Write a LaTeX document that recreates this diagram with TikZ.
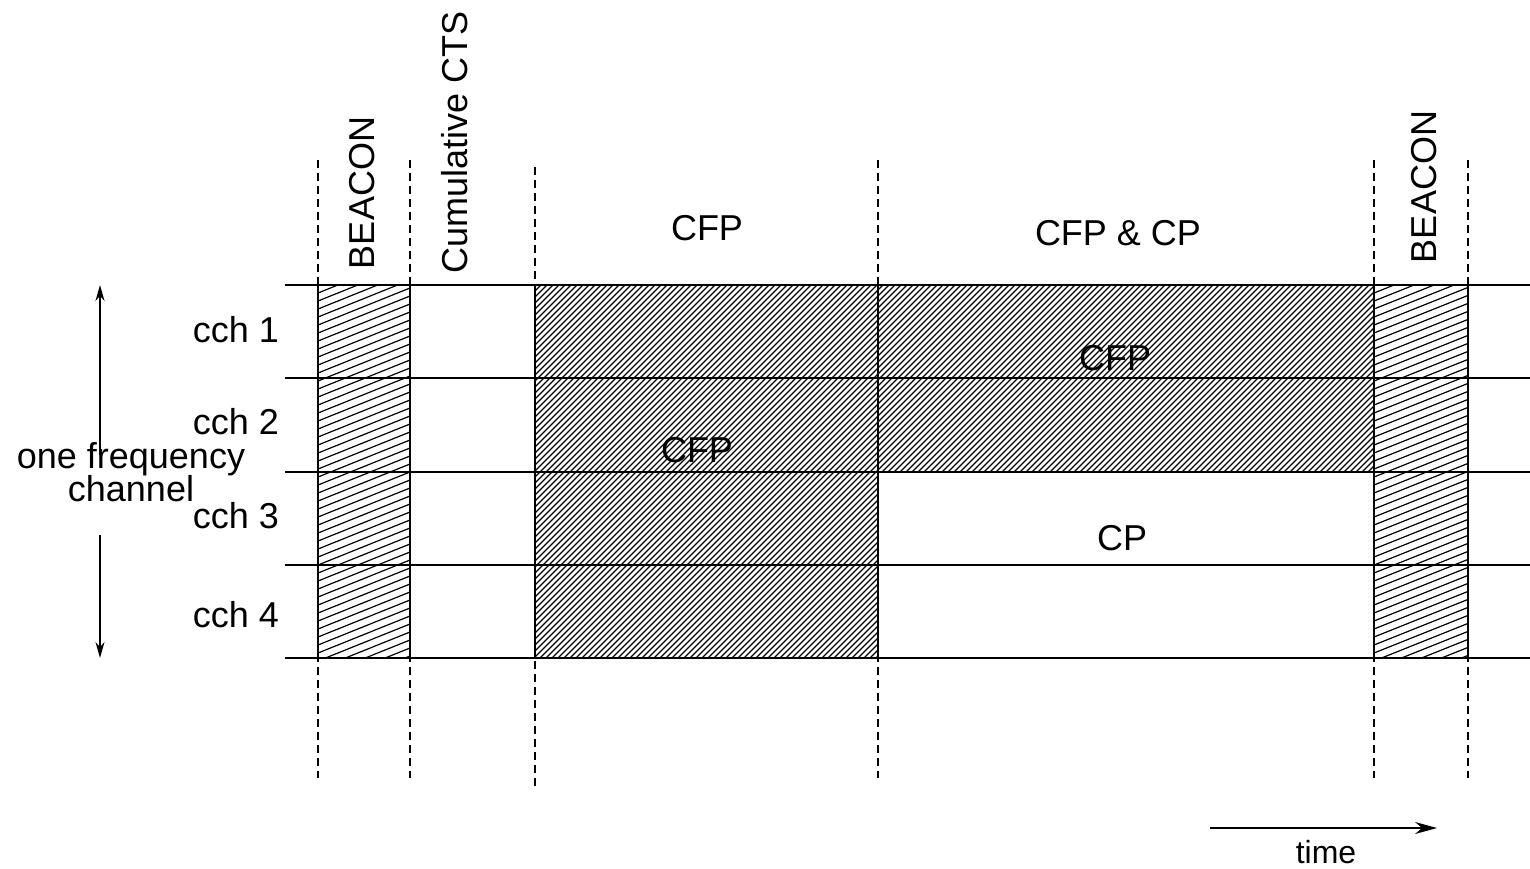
\documentclass[tikz,border=0pt]{standalone}
\usepackage{fontspec}
\setmainfont{Liberation Sans}
\usetikzlibrary{arrows.meta}
\begin{document}
\begin{tikzpicture}[x=0.5pt,y=-0.5pt,
  lbl/.style={font=\fontsize{18}{21}\selectfont, inner sep=0pt},
  lblsmall/.style={font=\fontsize{16}{19}\selectfont, inner sep=0pt},
  vdash/.style={line width=0.75pt, dash pattern=on 4pt off 2.5pt},
  hline/.style={line width=0.75pt},
  hatchline/.style={line width=0.6pt},
  boxline/.style={line width=0.75pt},
  arr/.style={line width=0.75pt,-{Stealth[length=8pt,width=4.5pt]}},
  arrtime/.style={line width=0.75pt,-{Stealth[length=11pt,width=6pt]}}]
\useasboundingbox (0,0) rectangle (1530,868);

% ---- hatching: CFP regions (45 deg)
\begin{scope}
  \clip (535,285) rectangle (878,658);
  \foreach \x in {162,168,...,880} \draw[hatchline] (\x,658) -- ++(373,-373);
\end{scope}
\begin{scope}
  \clip (878,285) rectangle (1374,472);
  \foreach \x in {690,696,...,1380} \draw[hatchline] (\x,472) -- ++(187,-187);
\end{scope}
% ---- hatching: BEACON regions (shallow)
\begin{scope}
  \clip (318,285) rectangle (410,658);
  \foreach \c in {285,293,...,705} \draw[hatchline] (318,\c) -- ++(92,-37);
\end{scope}
\begin{scope}
  \clip (1374,285) rectangle (1468,658);
  \foreach \c in {285,293,...,705} \draw[hatchline] (1374,\c) -- ++(94,-37.6);
\end{scope}

% ---- box outlines
\draw[boxline] (318,285) rectangle (410,658);
\draw[boxline] (535,285) rectangle (878,658);
\draw[boxline] (878,285) rectangle (1374,472);
\draw[boxline] (1374,285) rectangle (1468,658);

% ---- channel lines
\foreach \y in {285,378,472,565,658} \draw[hline] (285,\y) -- (1530,\y);

% ---- dashed time boundaries
\foreach \x in {318,410,878,1374,1468} \draw[vdash] (\x,160) -- (\x,778);
\draw[vdash] (535,167) -- (535,787);

% ---- labels
\node[lbl] (c1) at (236,330) {cch 1};
\node[lbl] (c2) at (236,422) {cch 2};
\node[lbl] (c3) at (236,516) {cch 3};
\node[lbl] (c4) at (236,615) {cch 4};
\node[lbl, align=center, font=\fontsize{18}{18}\selectfont] (fq) at (131,472) {one frequency\\[-1.5pt]channel};

\node[lbl, rotate=90] (b1) at (362,193) {BEACON};
\node[lbl, rotate=90] (cts) at (455,142) {Cumulative CTS};
\node[lbl] (cfpt) at (707,228) {CFP};
\node[lbl] (cfpcp) at (1118,233) {CFP \& CP};
\node[lbl, rotate=90] (b2) at (1424,187) {BEACON};

\node[lbl] (cfp1) at (1115,358) {CFP};
\node[lbl] (cfp2) at (697,450) {CFP};
\node[lbl] (cp) at (1122,538) {CP};

% ---- frequency arrow
\coordinate (fa) at (100,455);
\coordinate (ftop) at (100,285);
\coordinate (fb) at (100,535);
\coordinate (fbot) at (100,658);
\draw[arr] (fa) -- (ftop);
\draw[arr] (fb) -- (fbot);

% ---- time arrow
\coordinate (t0) at (1210,828);
\coordinate (t1) at (1437,828);
\draw[arrtime] (t0) -- (t1);
\node[lblsmall] (time) at (1326,852) {time};
\end{tikzpicture}
\end{document}
